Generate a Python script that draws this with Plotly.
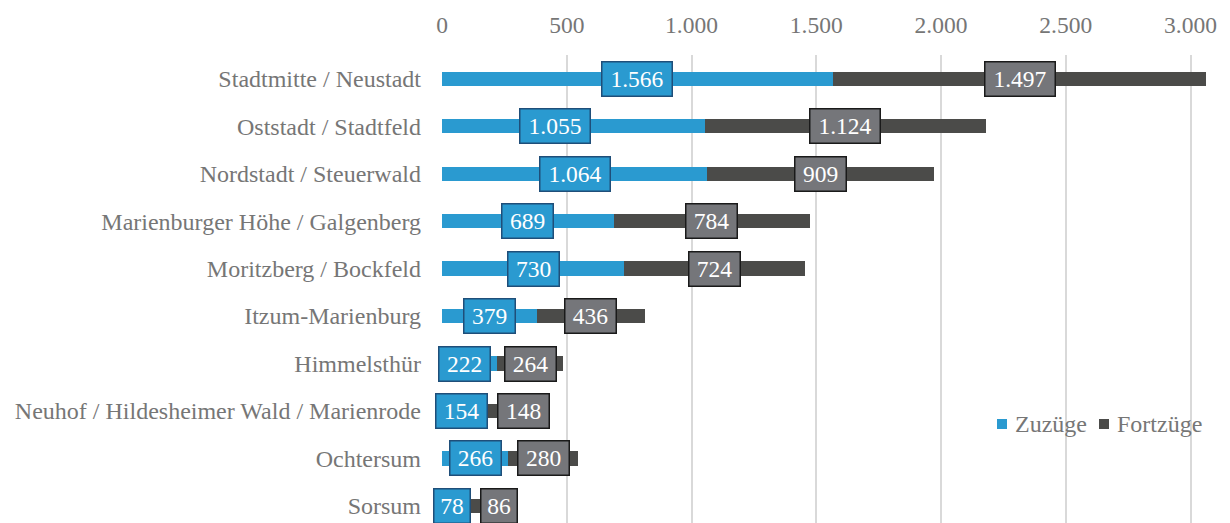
import plotly.graph_objects as go

# Stadtteile, Wanderungen (Zuzüge / Fortzüge)
districts = [
    'Stadtmitte / Neustadt',
    'Oststadt / Stadtfeld',
    'Nordstadt / Steuerwald',
    'Marienburger Höhe / Galgenberg',
    'Moritzberg / Bockfeld',
    'Itzum-Marienburg',
    'Himmelsthür',
    'Neuhof / Hildesheimer Wald / Marienrode',
    'Ochtersum',
    'Sorsum',
]
zuzuege = [1566, 1055, 1064, 689, 730, 379, 222, 154, 266, 78]
fortzuege = [1497, 1124, 909, 784, 724, 436, 264, 148, 280, 86]
tick_vals = [0, 500, 1000, 1500, 2000, 2500, 3000]

BLUE = '#2A9AD0'
GRAY = '#4B4B49'
FONT = 'Liberation Serif'
TXT = '#767676'

# page body has an 8px margin, so the figure is a bit smaller than the window
W, H = 1222, 515
ML, MR, MT, MB = 434, 12, 47, 0
XMAX = 3110
PW, PH = W - ML - MR, H - MT - MB
px_per_unit = PW / XMAX

# label that was dragged by hand in the original (px)
blue_label_nudge = {'Oststadt / Stadtfeld': -19}


def fmt(v):
    return f'{v:,}'.replace(',', '.')


def box_w(s):
    # inner width of the label box in px
    return {2: 31, 3: 46, 4: 56, 5: 65}.get(len(s), 65)


def px(x):
    # pixel offset from plot left -> paper coords
    return x / PW


def py(y):
    # pixel offset from plot top -> paper coords
    return 1 - y / PH


fig = go.Figure()
fig.add_trace(go.Bar(y=districts, x=zuzuege, name='Zuzüge', orientation='h',
                     marker=dict(color=BLUE, line=dict(width=0)), width=0.3))
fig.add_trace(go.Bar(y=districts, x=fortzuege, name='Fortzüge', orientation='h',
                     marker=dict(color=GRAY, line=dict(width=0)), width=0.3))

annotations = []
for d, z, f in zip(districts, zuzuege, fortzuege):
    tz, tf = fmt(z), fmt(f)
    cz = z / 2
    cf = z + f / 2
    wz = box_w(tz) + 7
    wf = box_w(tf) + 7
    # keep the two labels apart (roughly what Excel does)
    left_blue = cz * px_per_unit - wz / 2
    right_blue = cz * px_per_unit + wz / 2
    left_gray = cf * px_per_unit - wf / 2
    shift_b, shift_g = 0, 0
    if right_blue + 13 > left_gray and left_blue - (right_blue + 13 - left_gray) >= -6:
        shift_b = -(right_blue + 13 - left_gray)
    else:
        shift_g = max(0, right_blue + 9 - left_gray)
    shift_b += blue_label_nudge.get(d, 0)
    annotations.append(dict(x=cz, y=d, xref='x', yref='y', text=tz, showarrow=False,
                            xshift=shift_b,
                            font=dict(family=FONT, size=23.5, color='white'),
                            bgcolor=BLUE, bordercolor='#1F4E79', borderwidth=1.5,
                            borderpad=2, width=box_w(tz), height=29))
    annotations.append(dict(x=cf, y=d, xref='x', yref='y', text=tf, showarrow=False,
                            xshift=shift_g,
                            font=dict(family=FONT, size=23.5, color='white'),
                            bgcolor='#75767A', bordercolor='#1A1A1A', borderwidth=1.5,
                            borderpad=2, width=box_w(tf), height=29))

# compact legend, Excel style
legend_items = [('Zuzüge', BLUE, 555), ('Fortzüge', GRAY, 657)]
shapes = []
for name, col, x0 in legend_items:
    shapes.append(dict(type='rect', xref='paper', yref='paper',
                       x0=px(x0), x1=px(x0 + 10), y0=py(374), y1=py(364),
                       fillcolor=col, line=dict(width=0)))
    annotations.append(dict(x=px(x0 + 16), y=py(369), xref='paper', yref='paper',
                            text=name, showarrow=False, xanchor='left', yanchor='middle',
                            font=dict(family=FONT, size=24, color=TXT)))

fig.update_layout(
    width=W, height=H,
    barmode='stack',
    separators=',.',
    showlegend=False,
    paper_bgcolor='white', plot_bgcolor='white',
    margin=dict(l=ML, r=MR, t=MT, b=MB, autoexpand=False),
    font=dict(family=FONT, size=24, color=TXT),
    xaxis=dict(side='top', range=[0, XMAX], tickvals=tick_vals, tickformat=',d',
               showgrid=True, gridcolor='#D9D9D9', gridwidth=2,
               zeroline=False, showline=False, ticks='',
               ticklabelstandoff=16, tickfont=dict(family=FONT, size=23.5, color=TXT)),
    yaxis=dict(range=[9.36, -0.5], showgrid=False, zeroline=False, showline=False,
               ticks='', ticklabelstandoff=20,
               tickfont=dict(family=FONT, size=24, color=TXT)),
    shapes=shapes,
    annotations=annotations,
)

fig.write_html('out.html')
